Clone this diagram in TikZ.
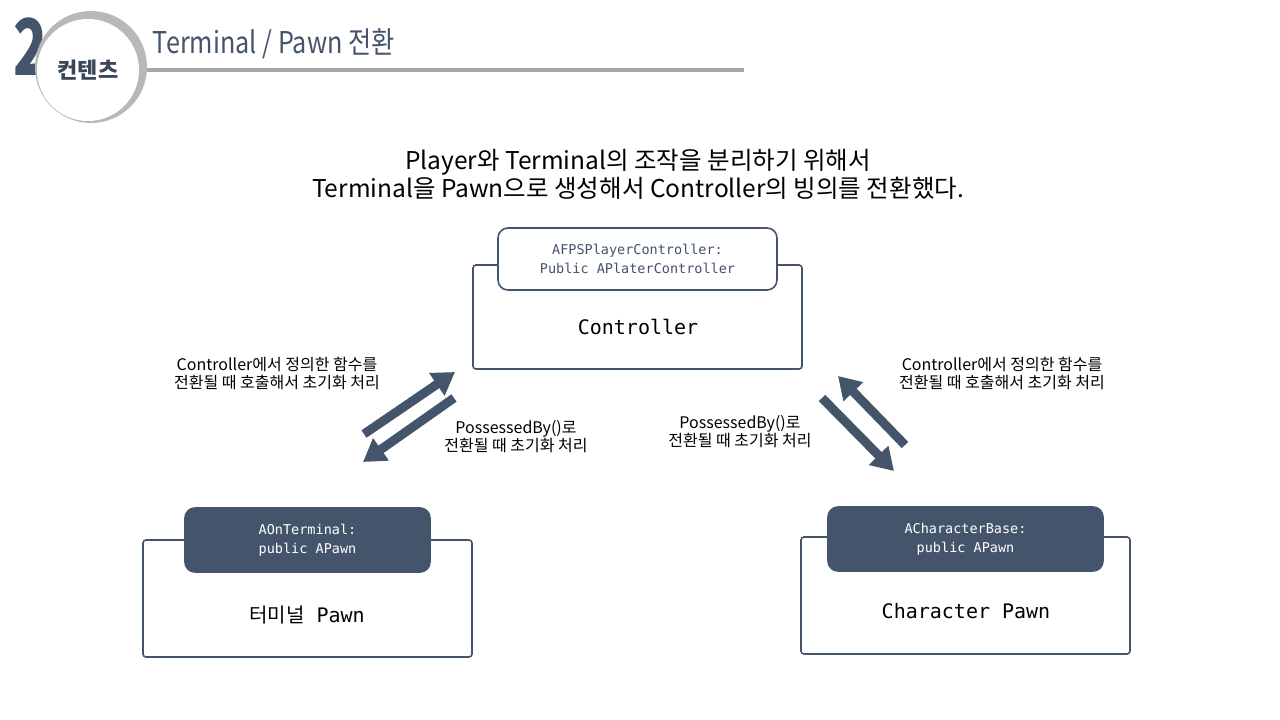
\documentclass[tikz,border=0pt]{standalone}
\usepackage{fontspec}
\setmainfont{Noto Sans CJK KR}
\setmonofont{DejaVu Sans Mono}
\newfontfamily\cjk{Noto Sans CJK KR}
\usetikzlibrary{arrows.meta,positioning}
\definecolor{slate}{HTML}{44546A}
\definecolor{rulegray}{HTML}{A6A6A6}
\tikzset{
  outerbox/.style={draw=slate, line width=1.6pt, rounded corners=3pt, fill=white},
  tabwhite/.style={draw=slate, line width=1.6pt, rounded corners=10pt, fill=white,
    text=slate, font=\ttfamily\fontsize{13.5}{19}\selectfont, align=center},
  tabdark/.style={draw=slate, line width=1.6pt, rounded corners=10pt, fill=slate,
    text=white, font=\ttfamily\fontsize{13.5}{19}\selectfont, align=center},
  boxtitle/.style={font=\ttfamily\fontsize{20}{24}\selectfont},
  note/.style={font=\fontsize{16}{18}\selectfont, align=center},
  movearrow/.style={draw=slate, line width=9pt, -{Triangle[width=26pt,length=22pt]}},
}
\begin{document}
\begin{tikzpicture}[x=1pt,y=-1pt]
  \useasboundingbox (0,0) rectangle (1280,720);
  \fill[white] (0,0) rectangle (1280,720);

  % header
  \draw[rulegray, line width=4pt] (140,70) -- (744,70);
  \node[text=slate, font=\bfseries\fontsize{78}{78}\selectfont, xscale=0.72] (secnum) at (31,47) {2};
  \fill[rulegray!80] (91,67) circle (56);
  \fill[white] (88,70) circle (51);
  \node[text=slate!85!black, font=\bfseries\fontsize{22}{24}\selectfont] (seclabel) at (88,70) {컨텐츠};
  \node[text=slate, font=\fontsize{30}{32}\selectfont, xscale=0.84, anchor=west] (title) at (150,44) {Terminal / Pawn 전환};

  % description
  \node[font=\fontsize{24.5}{28}\selectfont, align=center] (desc) at (638,174)
    {Player와 Terminal의 조작을 분리하기 위해서\\Terminal을 Pawn으로 생성해서 Controller의 빙의를 전환했다.};

  % controller
  \node[outerbox, minimum width=329pt, minimum height=104pt] (ctrl) at (637.5,317) {};
  \node[tabwhite, minimum width=279pt, minimum height=62pt] (ctrltab) at (637.5,259)
    {AFPSPlayerController:\\Public APlaterController};
  \node[boxtitle] (ctrltext) at (638,327) {Controller};

  % terminal pawn
  \node[outerbox, minimum width=329pt, minimum height=117pt] (term) at (307.5,598.5) {};
  \node[tabdark, minimum width=245pt, minimum height=64pt] (termtab) at (307.5,540)
    {AOnTerminal:\\public APawn};
  \node[boxtitle] (termtext) at (307,615) {{\cjk 터미널} Pawn};

  % character pawn
  \node[outerbox, minimum width=329pt, minimum height=117pt] (chara) at (965.5,595.5) {};
  \node[tabdark, minimum width=275pt, minimum height=64pt] (charatab) at (965.5,539)
    {ACharacterBase:\\public APawn};
  \node[boxtitle] (charatext) at (966,611) {Character Pawn};

  % arrow ends
  \coordinate (lupA) at (364,434);
  \coordinate (lupB) at (455,372);
  \coordinate (ldnA) at (454,398);
  \coordinate (ldnB) at (363,462);
  \coordinate (rdnA) at (822,398);
  \coordinate (rdnB) at (894,471);
  \coordinate (rupA) at (905,445);
  \coordinate (rupB) at (838,376);
  \draw[movearrow] (lupA) -- (lupB);
  \draw[movearrow] (ldnA) -- (ldnB);
  \draw[movearrow] (rdnA) -- (rdnB);
  \draw[movearrow] (rupA) -- (rupB);

  % notes
  \node[note] (lnoteup) at (277,373) {Controller에서 정의한 함수를\\전환될 때 호출해서 초기화 처리};
  \node[note] (lnotedn) at (516,437) {PossessedBy()로\\전환될 때 초기화 처리};
  \node[note] (rnotedn) at (740,432) {PossessedBy()로\\전환될 때 초기화 처리};
  \node[note] (rnoteup) at (1002,373) {Controller에서 정의한 함수를\\전환될 때 호출해서 초기화 처리};
\end{tikzpicture}
\end{document}
